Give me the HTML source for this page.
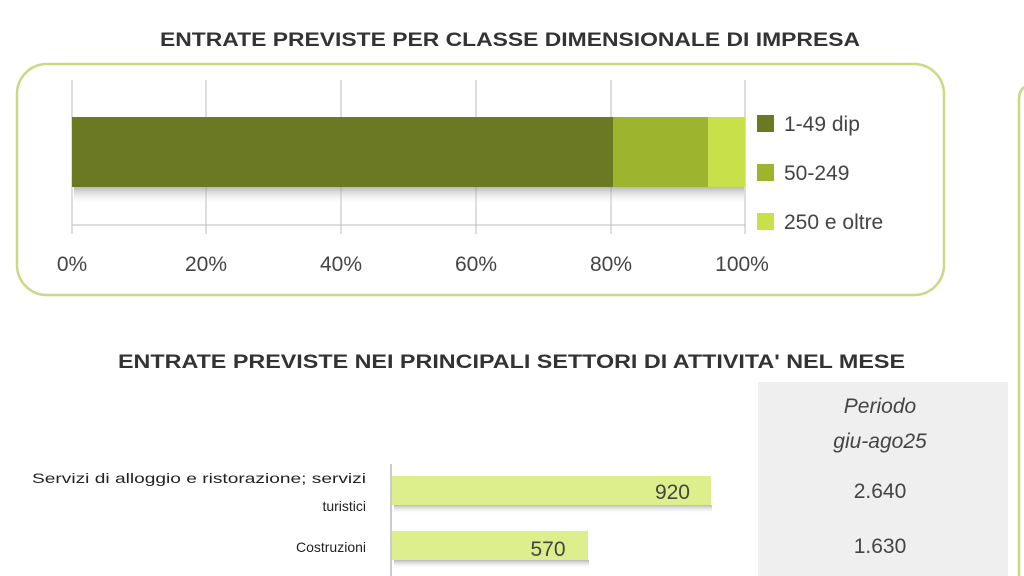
<!DOCTYPE html>
<html><head><meta charset="utf-8"><style>
html,body{margin:0;padding:0;background:#fff;width:1024px;height:576px;overflow:hidden}
svg{display:block;font-family:"Liberation Sans",sans-serif}
</style></head><body>
<svg width="1024" height="576" viewBox="0 0 1024 576">
<defs>
<linearGradient id="sh" x1="0" y1="0" x2="0" y2="1"><stop offset="0" stop-color="#888" stop-opacity="0.6"/><stop offset="1" stop-color="#fff" stop-opacity="0"/></linearGradient>
</defs>
<text x="160" y="46" textLength="700" lengthAdjust="spacingAndGlyphs" font-size="19" font-weight="bold" fill="#333">ENTRATE PREVISTE PER CLASSE DIMENSIONALE DI IMPRESA</text>
<rect x="17" y="64" width="927" height="231" rx="30" fill="#fff" stroke="#c8da82" stroke-width="2.5"/>
<path d="M1030 86 Q1019 86 1019 100 L1019 576" fill="none" stroke="#c8da82" stroke-width="2.5"/>
<g stroke="#bbb" stroke-width="1">
<line x1="72" y1="80" x2="72" y2="234"/><line x1="206" y1="80" x2="206" y2="234"/><line x1="341" y1="80" x2="341" y2="234"/><line x1="476" y1="80" x2="476" y2="234"/><line x1="611" y1="80" x2="611" y2="234"/><line x1="745" y1="80" x2="745" y2="234"/>
<line x1="72" y1="225" x2="745" y2="225"/>
</g>
<rect x="74" y="187" width="670" height="18" fill="url(#sh)"/>
<rect x="72" y="117" width="541" height="70" fill="#6b7a22"/>
<rect x="613" y="117" width="95" height="70" fill="#9cb42e"/>
<rect x="708" y="117" width="37" height="70" fill="#c8e04a"/>
<g font-size="21" fill="#444" text-anchor="middle">
<text x="72" y="271">0%</text><text x="206" y="271">20%</text><text x="341" y="271">40%</text><text x="476" y="271">60%</text><text x="611" y="271">80%</text><text x="742" y="271">100%</text>
</g>
<rect x="757" y="115" width="17" height="17" fill="#6b7a22"/>
<rect x="757" y="164" width="17" height="17" fill="#9cb42e"/>
<rect x="757" y="213" width="17" height="17" fill="#c8e04a"/>
<g font-size="21" fill="#444">
<text x="784" y="131">1-49 dip</text><text x="784" y="180">50-249</text><text x="784" y="229">250 e oltre</text>
</g>
<text x="118" y="368" textLength="787" lengthAdjust="spacingAndGlyphs" font-size="19" font-weight="bold" fill="#333">ENTRATE PREVISTE NEI PRINCIPALI SETTORI DI ATTIVITA' NEL MESE</text>
<rect x="758" y="382" width="250" height="194" fill="#efefef"/>
<g font-size="21" fill="#444" text-anchor="middle">
<text x="880" y="413" font-style="italic">Periodo</text>
<text x="880" y="448" font-style="italic">giu-ago25</text>
<text x="880" y="498">2.640</text>
<text x="880" y="553">1.630</text>
</g>
<line x1="391" y1="464" x2="391" y2="576" stroke="#999"/>
<rect x="394" y="505" width="318" height="9" fill="url(#sh)"/>
<rect x="394" y="560" width="195" height="9" fill="url(#sh)"/>
<rect x="392" y="476" width="319" height="29" fill="#dcef8c"/>
<rect x="392" y="531" width="196" height="29" fill="#dcef8c"/>
<text x="690" y="499" text-anchor="end" font-size="21" fill="#444">920</text>
<text x="548" y="556" text-anchor="middle" font-size="21" fill="#444">570</text>
<g font-size="14" fill="#222">
<text x="32" y="483" textLength="334" lengthAdjust="spacingAndGlyphs">Servizi di alloggio e ristorazione; servizi</text>
<text x="366" y="511" text-anchor="end">turistici</text>
<text x="366" y="552" text-anchor="end">Costruzioni</text>
</g>
</svg>
</body></html>
